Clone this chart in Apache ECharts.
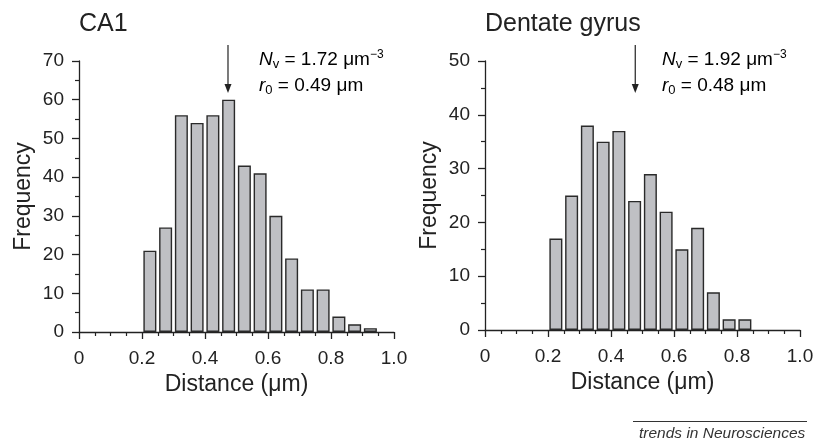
<!DOCTYPE html>
<html lang="en">
<head>
    <meta charset="UTF-8">
    <title>Distance histograms</title>
    <script src="https://cdn.jsdelivr.net/npm/echarts@6/dist/echarts.min.js"></script>
    <style>
        body { margin: 0; background: #fff; }
    </style>
</head>
<body>
    <div id="main" style="width:830px; height:441px;"></div>
    <script>
        // bin centres (0.05 wide bins) and counts
        var ca1Bins = [0.225, 0.275, 0.325, 0.375, 0.425, 0.475, 0.525, 0.575, 0.625, 0.675, 0.725, 0.775, 0.825, 0.875, 0.925];
        var ca1Counts = [21, 27, 56, 54, 56, 60, 43, 41, 30, 19, 11, 11, 4, 2, 1];
        var dgBins = [0.225, 0.275, 0.325, 0.375, 0.425, 0.475, 0.525, 0.575, 0.625, 0.675, 0.725, 0.775, 0.825];
        var dgCounts = [17, 25, 38, 35, 37, 24, 29, 22, 15, 19, 7, 2, 2];
        var panelTitles = ['CA1', 'Dentate gyrus'];
        var nvValues = ['1.72', '1.92'];
        var r0Values = ['0.49', '0.48'];
        var arrowPos = [0.473, 0.477];
        var yMax = [70, 50];

        var font = 'Liberation Sans, Arial, sans-serif';
        var ink = '#222';

        function pairs(xs, ys) {
            var out = [];
            for (var i = 0; i < xs.length; i++) out.push([xs[i], ys[i]]);
            return out;
        }

        function xAxis(idx) {
            return {
                type: 'value', gridIndex: idx, min: 0, max: 1, interval: 0.2,
                name: 'Distance (μm)', nameLocation: 'middle', nameGap: 38,
                nameTextStyle: { fontFamily: font, fontSize: 23, color: ink },
                axisLine: { lineStyle: { color: ink, width: 1.3 } },
                axisTick: { length: 7, lineStyle: { color: ink, width: 1.3 } },
                minorTick: { show: true, splitNumber: 4, length: 4, lineStyle: { color: ink, width: 1.2 } },
                splitLine: { show: false },
                axisLabel: {
                    fontFamily: font, fontSize: 19, color: ink, margin: 17,
                    formatter: function (v) { return v === 0 ? '0' : v.toFixed(1); }
                }
            };
        }

        function yAxis(idx) {
            return {
                type: 'value', gridIndex: idx, min: 0, max: yMax[idx], interval: 10,
                name: 'Frequency', nameLocation: 'middle', nameGap: 44,
                nameTextStyle: { fontFamily: font, fontSize: 23, color: ink },
                axisLine: { show: true, lineStyle: { color: ink, width: 1.3 } },
                axisTick: { show: true, length: 7, lineStyle: { color: ink, width: 1.3 } },
                minorTick: { show: true, splitNumber: 2, length: 4, lineStyle: { color: ink, width: 1.2 } },
                splitLine: { show: false },
                axisLabel: { fontFamily: font, fontSize: 19, color: ink, margin: 15 }
            };
        }

        function barSeries(idx, bins, counts) {
            return {
                type: 'bar', xAxisIndex: idx, yAxisIndex: idx,
                data: pairs(bins, counts),
                barWidth: 13,
                itemStyle: { color: '#bfc0c4', borderColor: '#2a2a2a', borderWidth: 1.4 },
                silent: true
            };
        }

        var chart = echarts.init(document.getElementById('main'));
        chart.setOption({
            animation: false,
            backgroundColor: '#fff',
            grid: [
                { left: 79, top: 61, width: 315, height: 271 },
                { left: 485, top: 61, width: 315, height: 269 }
            ],
            xAxis: [xAxis(0), xAxis(1)],
            yAxis: [yAxis(0), yAxis(1)],
            series: [barSeries(0, ca1Bins, ca1Counts), barSeries(1, dgBins, dgCounts)]
        });

        // titles, arrows, annotations
        var rich = {
            i: { fontFamily: font, fontSize: 19, fontStyle: 'italic', color: ink, lineHeight: 22 },
            n: { fontFamily: font, fontSize: 19, color: ink, lineHeight: 22 },
            sub: { fontFamily: font, fontSize: 13, color: ink, verticalAlign: 'bottom', lineHeight: 13, padding: [9, 0, 0, 0] },
            sup: { fontFamily: font, fontSize: 12, color: ink, verticalAlign: 'top', lineHeight: 12, padding: [0, 0, 8, 0] }
        };
        var graphics = [];
        var titleX = [79, 485];
        var noteX = [259, 662];
        for (var k = 0; k < 2; k++) {
            graphics.push({
                type: 'text', left: titleX[k], top: 12,
                style: { text: panelTitles[k], fontFamily: font, fontSize: 25, fill: ink }
            });
            graphics.push({
                type: 'text', left: noteX[k], top: 49,
                style: { text: '{i|N}{sub|v}{n| = ' + nvValues[k] + ' μm}{sup|−3}', rich: rich }
            });
            graphics.push({
                type: 'text', left: noteX[k], top: 75,
                style: { text: '{i|r}{sub|0}{n| = ' + r0Values[k] + ' μm}', rich: rich }
            });
            var px = chart.convertToPixel({ gridIndex: k }, [arrowPos[k], 0])[0];
            graphics.push({
                type: 'line',
                shape: { x1: px, y1: 45, x2: px, y2: 86 },
                style: { stroke: ink, lineWidth: 1.2 }
            });
            graphics.push({
                type: 'polygon',
                shape: { points: [[px - 3.5, 84], [px + 3.5, 84], [px, 93]] },
                style: { fill: ink }
            });
        }
        graphics.push({
            type: 'line',
            shape: { x1: 633, y1: 421.5, x2: 807, y2: 421.5 },
            style: { stroke: '#333', lineWidth: 1 }
        });
        graphics.push({
            type: 'text', left: 639, top: 426,
            style: { text: 'trends in Neurosciences', fontFamily: font, fontSize: 15.5, fontStyle: 'italic', fill: '#333' }
        });
        chart.setOption({ graphic: graphics });
    </script>
</body>
</html>
